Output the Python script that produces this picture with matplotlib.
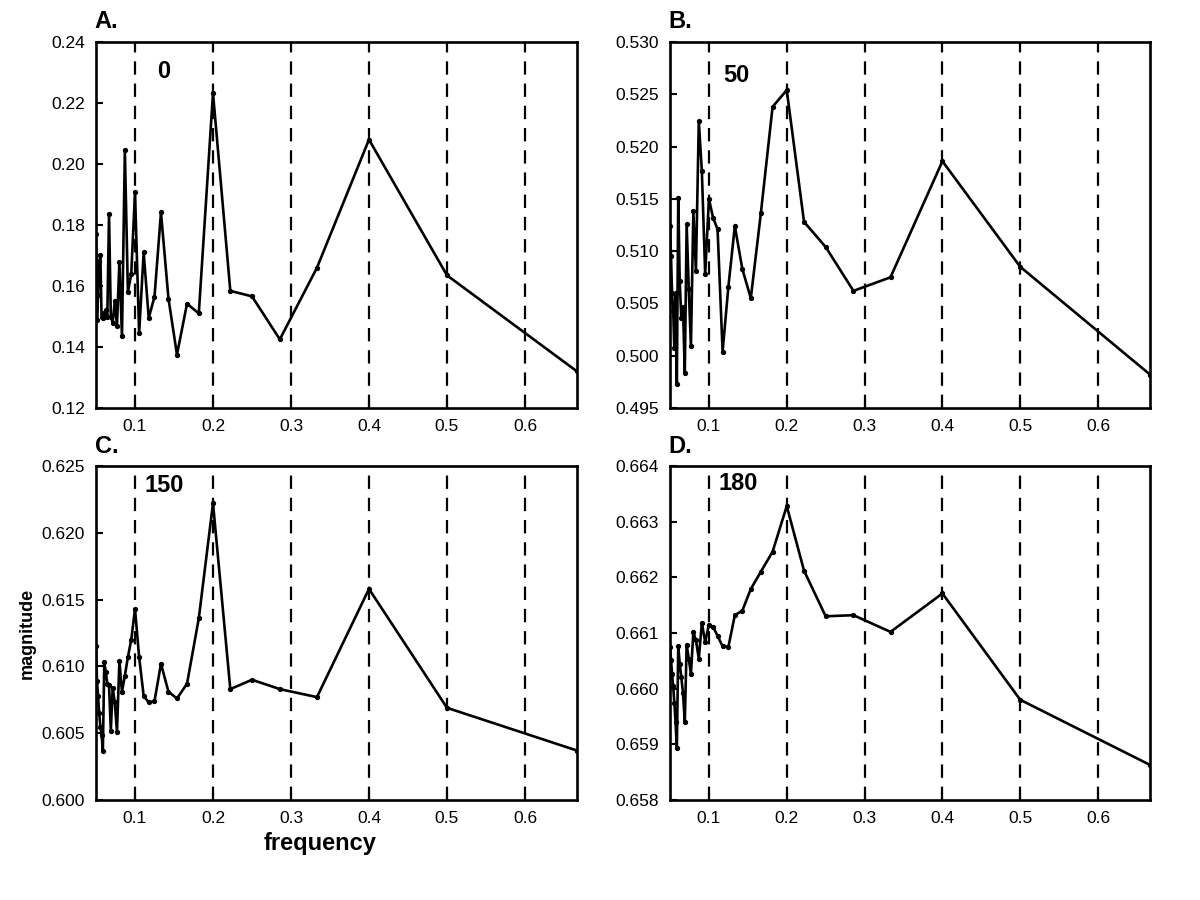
import matplotlib
matplotlib.use("Agg")
import matplotlib.pyplot as plt
from matplotlib.ticker import FormatStrFormatter

plt.rcParams['font.family'] = ['Liberation Sans', 'DejaVu Sans']

freq = [0.05, 0.0513, 0.0526, 0.0541, 0.0556, 0.0571, 0.0588, 0.0606, 0.0625, 0.0645,
        0.0667, 0.069, 0.0714, 0.0741, 0.0769, 0.08, 0.0833, 0.087, 0.0909, 0.0952,
        0.1, 0.1053, 0.1111, 0.1176, 0.125, 0.1333, 0.1429, 0.1538, 0.1667, 0.1818,
        0.2, 0.2222, 0.25, 0.2857, 0.3333, 0.4, 0.5, 0.6667]

mag_a = [0.177, 0.149, 0.157, 0.168, 0.170, 0.150, 0.1495, 0.151, 0.152, 0.150,
         0.1835, 0.150, 0.148, 0.155, 0.147, 0.168, 0.1435, 0.2045, 0.158, 0.164,
         0.1907, 0.1445, 0.171, 0.1495, 0.1565, 0.1841, 0.1559, 0.1375, 0.1542, 0.151,
         0.2232, 0.1584, 0.1566, 0.1425, 0.166, 0.208, 0.1635, 0.132]
mag_b = [0.5124, 0.5095, 0.5060, 0.5043, 0.5007, 0.5060, 0.4973, 0.5151, 0.5071, 0.5036,
         0.5047, 0.4983, 0.5126, 0.5064, 0.5009, 0.5138, 0.5081, 0.5224, 0.5177, 0.5078,
         0.5150, 0.5132, 0.5121, 0.5004, 0.5066, 0.5124, 0.5083, 0.5055, 0.5136, 0.5238,
         0.5254, 0.5128, 0.5104, 0.5062, 0.5075, 0.5186, 0.5085, 0.4982]
mag_c = [0.6115, 0.6089, 0.6078, 0.6065, 0.6055, 0.6049, 0.6037, 0.6103, 0.6096, 0.6087,
         0.6086, 0.6052, 0.6084, 0.6073, 0.6051, 0.6104, 0.6081, 0.6093, 0.6107, 0.6120,
         0.6143, 0.6107, 0.6078, 0.6073, 0.6074, 0.6102, 0.6081, 0.6076, 0.6087, 0.6136,
         0.6222, 0.6083, 0.6090, 0.6083, 0.6077, 0.6158, 0.6069, 0.6037]
mag_d = [0.66074, 0.66052, 0.66027, 0.66004, 0.65974, 0.65941, 0.65893, 0.66076, 0.66045, 0.66021,
         0.65992, 0.65940, 0.66079, 0.66054, 0.66026, 0.66102, 0.66087, 0.66054, 0.66118, 0.66084,
         0.66115, 0.66111, 0.66095, 0.66076, 0.66075, 0.66132, 0.66140, 0.66179, 0.66210, 0.66246,
         0.66328, 0.66212, 0.66130, 0.66132, 0.66102, 0.66171, 0.65980, 0.65863]

dash_x = [0.1, 0.2, 0.3, 0.4, 0.5, 0.6]
x_ticks = [0.1, 0.2, 0.3, 0.4, 0.5, 0.6]

panels = [
    ("A.", "0", mag_a, (0.12, 0.24), [0.12, 0.14, 0.16, 0.18, 0.20, 0.22, 0.24], "%.2f", (0.128, 0.05)),
    ("B.", "50", mag_b, (0.495, 0.530), [0.495, 0.500, 0.505, 0.510, 0.515, 0.520, 0.525, 0.530], "%.3f", (0.119, 0.06)),
    ("C.", "150", mag_c, (0.600, 0.625), [0.600, 0.605, 0.610, 0.615, 0.620, 0.625], "%.3f", (0.112, 0.025)),
    ("D.", "180", mag_d, (0.658, 0.664), [0.658, 0.659, 0.660, 0.661, 0.662, 0.663, 0.664], "%.3f", (0.112, 0.018)),
]

# axes boxes in figure fractions (left, bottom, width, height)
boxes = [
    (96/1200, 1-408/900, 481/1200, 366/900),
    (670/1200, 1-408/900, 480/1200, 366/900),
    (96/1200, 1-800/900, 481/1200, 334/900),
    (670/1200, 1-800/900, 480/1200, 334/900),
]

fig = plt.figure(figsize=(12, 9), dpi=100)

for (letter, angle, mag, ylim, yticks, fmt, lab_pos), box in zip(panels, boxes):
    ax = fig.add_axes(box)
    for xv in dash_x:
        ax.axvline(xv, color="black", linestyle=(0, (6, 4)), linewidth=1.6, zorder=1)
    ax.plot(freq, mag, color="black", linewidth=1.9, marker="o", markersize=2.8, zorder=3)
    ax.set_xlim(0.05, 0.6667)
    ax.set_ylim(*ylim)
    ax.set_xticks(x_ticks)
    ax.set_xticklabels(["0.1", "0.2", "0.3", "0.4", "0.5", "0.6"])
    ax.set_yticks(yticks)
    ax.yaxis.set_major_formatter(FormatStrFormatter(fmt))
    ax.tick_params(direction="in", length=5, width=1.5, labelsize=12.5, pad=8)
    for s in ax.spines.values():
        s.set_linewidth(1.9)
    ax.text(-0.003, 1.025, letter, transform=ax.transAxes, fontsize=17,
            fontweight="bold", ha="left", va="bottom")
    ax.text(lab_pos[0], 1 - lab_pos[1], angle, transform=ax.get_xaxis_transform(),
            fontsize=17, fontweight="bold", ha="left", va="top")
    if letter == "C.":
        ax.set_ylabel("magnitude", fontsize=13, fontweight="bold", labelpad=4)
        ax.set_xlabel("frequency", fontsize=17, fontweight="bold")
        ax.xaxis.set_label_coords(0.465, -0.095)

fig.savefig("out.png", dpi=100)
